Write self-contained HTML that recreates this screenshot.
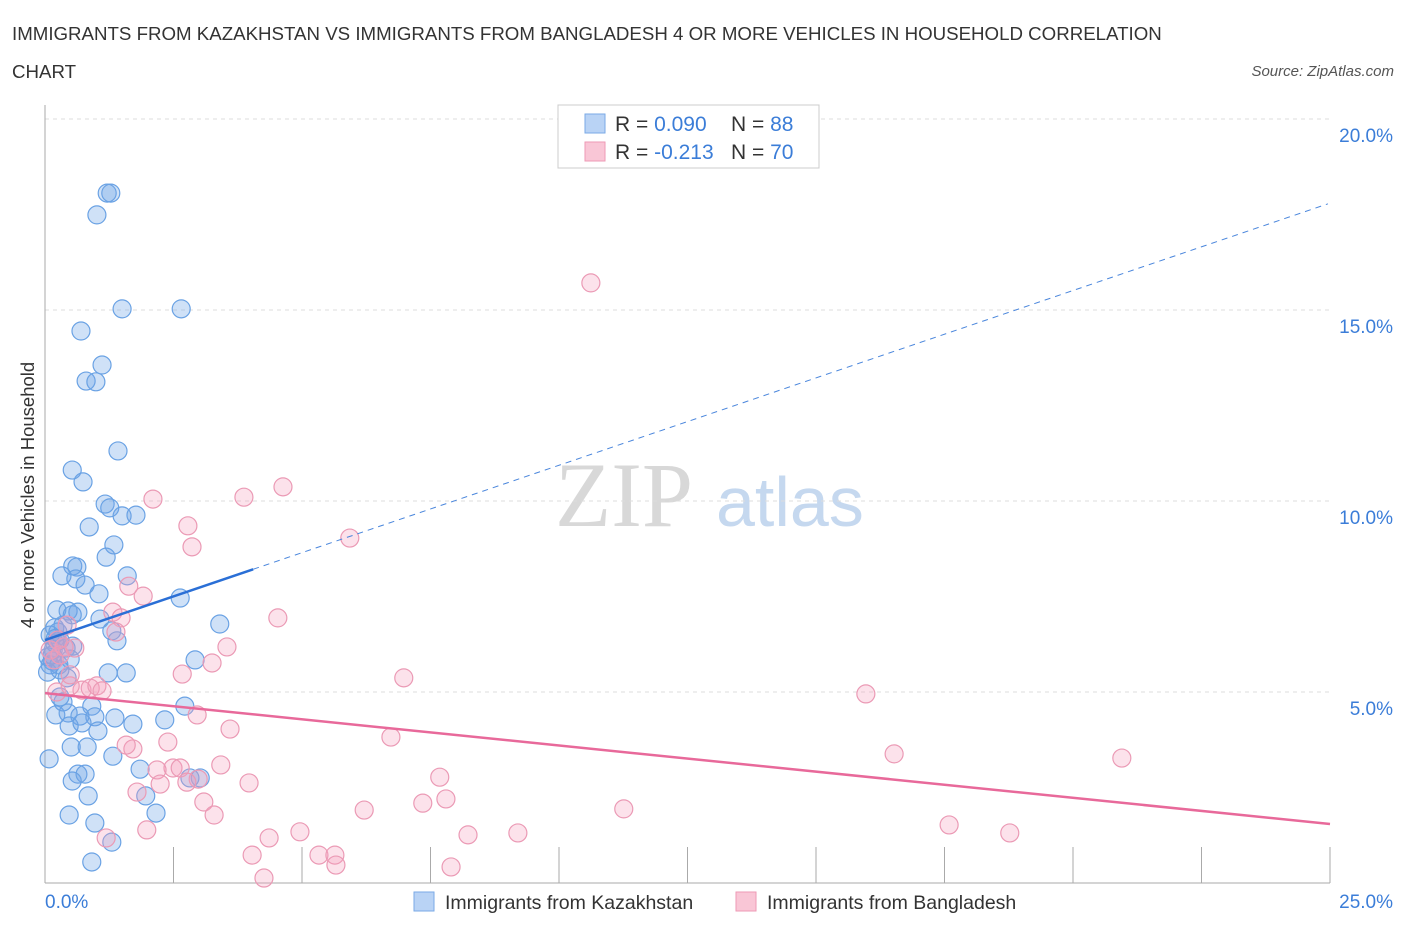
<!DOCTYPE html>
<html><head><meta charset="utf-8"><style>
body{margin:0;background:#fff;font-family:"Liberation Sans",sans-serif;}
</style></head><body>
<svg width="1406" height="930" xmlns="http://www.w3.org/2000/svg" id="chart">
<text x="12" y="40" font-size="18.7" fill="#333">IMMIGRANTS FROM KAZAKHSTAN VS IMMIGRANTS FROM BANGLADESH 4 OR MORE VEHICLES IN HOUSEHOLD CORRELATION</text>
<text x="12" y="78" font-size="18.7" fill="#333">CHART</text>
<text x="1394" y="76" font-size="15" fill="#555" font-style="italic" text-anchor="end">Source: ZipAtlas.com</text>
<text transform="translate(34,495) rotate(-90)" font-size="18.5" fill="#333" text-anchor="middle">4 or more Vehicles in Household</text>
<text x="555" y="526" font-size="92" fill="#d8d8d8" font-family="Liberation Serif,serif">ZIP</text>
<text x="716" y="526" font-size="70" fill="#c5d8ef">atlas</text>
<g id="grid"></g><g id="axes"></g><g id="pts"></g><g id="lines"></g>
<g>
<rect x="558" y="105" width="261" height="63" fill="#fff" stroke="#ccc"/>
<rect x="585" y="114" width="20" height="19" fill="#b9d3f5" stroke="#7aa9e6"/>
<rect x="585" y="142" width="20" height="19" fill="#f9c6d6" stroke="#ee9ab5"/>
<text x="615" y="131" font-size="21" fill="#333">R = <tspan fill="#3b7dd8">0.090</tspan><tspan x="731">N = </tspan><tspan fill="#3b7dd8">88</tspan></text>
<text x="615" y="159" font-size="21" fill="#333">R = <tspan fill="#3b7dd8">-0.213</tspan><tspan x="731">N = </tspan><tspan fill="#3b7dd8">70</tspan></text>
</g>
<g>
<rect x="414" y="892" width="20" height="19" fill="#b9d3f5" stroke="#7aa9e6"/>
<text x="445" y="909" font-size="19.5" fill="#333">Immigrants from Kazakhstan</text>
<rect x="736" y="892" width="20" height="19" fill="#f9c6d6" stroke="#ee9ab5"/>
<text x="767" y="909" font-size="19.5" fill="#333">Immigrants from Bangladesh</text>
</g>
</svg>
<script>
const yTicks=[5,10,15,20];
const yTickLabels=["5.0%","10.0%","15.0%","20.0%"];
const xTickLabels=["0.0%","25.0%"];
const blueX=[1.21,1.28,1.01,1.50,2.65,0.70,1.11,0.80,0.99,1.42,0.53,0.74,1.17,1.26,1.50,1.77,0.86,1.34,1.19,0.54,0.62,0.33,0.60,0.78,1.60,1.05,2.63,0.23,0.45,0.64,0.53,1.07,3.40,1.30,0.19,0.10,0.29,1.40,0.54,0.16,0.06,0.14,0.27,1.23,1.58,2.92,0.43,0.29,0.35,0.91,2.72,0.21,0.45,0.68,0.97,1.36,1.71,0.47,0.72,1.03,0.51,0.82,1.32,0.08,1.85,0.64,0.78,0.53,0.84,1.96,2.16,0.47,0.97,1.30,0.91,0.10,0.14,0.19,0.25,0.35,0.41,0.49,0.29,3.02,2.82,2.33,0.05,0.20];
const blueY=[18.06,18.06,17.49,15.03,15.03,14.45,13.56,13.14,13.12,11.31,10.81,10.50,9.92,9.82,9.61,9.63,9.32,8.85,8.53,8.30,8.27,8.04,7.96,7.80,8.04,7.57,7.46,7.15,7.12,7.09,7.02,6.91,6.78,6.60,6.68,6.49,6.36,6.34,6.20,6.10,5.92,5.81,5.71,5.50,5.50,5.84,5.37,4.87,4.74,4.63,4.63,4.40,4.45,4.37,4.35,4.32,4.16,4.11,4.19,3.98,3.56,3.56,3.32,3.25,2.98,2.85,2.85,2.67,2.28,2.28,1.83,1.78,1.57,1.07,0.55,5.71,5.97,6.28,6.57,6.75,6.15,5.86,5.58,2.75,2.75,4.27,5.52,6.40];
const pinkX=[10.62,4.63,3.87,2.10,5.93,2.78,2.86,1.63,1.91,4.53,1.32,1.48,1.38,3.54,0.58,0.37,3.25,2.67,6.98,15.97,0.23,0.72,0.88,1.01,1.11,0.49,0.49,2.96,3.60,1.71,2.39,1.58,6.73,16.52,20.95,3.42,2.49,2.63,2.18,7.68,2.98,2.76,3.97,2.24,1.79,7.80,7.35,3.09,6.21,11.26,3.29,1.98,4.96,8.23,9.20,17.59,18.77,4.36,1.19,4.03,5.33,5.64,5.66,7.90,4.26,0.29,0.18,0.25,0.43,0.10];
const pinkY=[15.71,10.37,10.10,10.05,9.03,9.35,8.80,7.77,7.51,6.94,7.09,6.94,6.57,6.18,6.15,6.18,5.76,5.47,5.37,4.95,5.00,5.05,5.10,5.16,5.03,5.16,5.45,4.40,4.03,3.51,3.69,3.61,3.82,3.38,3.27,3.09,3.01,3.01,2.96,2.77,2.72,2.64,2.62,2.59,2.38,2.20,2.09,2.12,1.91,1.94,1.78,1.39,1.34,1.26,1.31,1.52,1.31,1.18,1.18,0.73,0.73,0.73,0.47,0.42,0.13,5.97,5.84,6.36,6.75,6.10];
const blueTrend=[6.36,0.4575]; // intercept, slope
const pinkTrend=[4.97,-0.137];
const blueSolidEnd=4.05, trendEnd=24.96;
const NS="http://www.w3.org/2000/svg";
const X=v=>45+v*1285/25, Y=v=>883-v*191/5;
function mk(tag,attrs,parent){const e=document.createElementNS(NS,tag);for(const k in attrs)e.setAttribute(k,attrs[k]);document.getElementById(parent).appendChild(e);return e;}
yTicks.forEach((t,i)=>{
  const l=mk('line',{x1:45,x2:1330,y1:Y(t),y2:Y(t),stroke:'#ddd','stroke-dasharray':'4,4'},'grid');
  
  
  const tx=mk('text',{x:1393,y:Y(t)+23,'font-size':19,fill:'#3b7dd8','text-anchor':'end'},'grid');
  tx.textContent=yTickLabels[i];
  
  
});
mk('line',{x1:45,x2:45,y1:105,y2:883,stroke:'#aaa'},'axes');
mk('line',{x1:45,x2:1330,y1:883,y2:883,stroke:'#aaa'},'axes');
for(let i=1;i<=10;i++){const x=X(i*2.5);const t=mk('line',{x1:x,x2:x,y1:847,y2:883,stroke:'#aaa'},'axes');}
const xl0=mk('text',{x:45,y:908,'font-size':19,fill:'#3b7dd8'},'axes');xl0.textContent=xTickLabels[0];


const xl1=mk('text',{x:1393,y:908,'font-size':19,fill:'#3b7dd8','text-anchor':'end'},'axes');xl1.textContent=xTickLabels[1];


blueX.forEach((v,i)=>{const c=mk('circle',{cx:X(v),cy:Y(blueY[i]),r:9,fill:'rgba(110,165,230,0.33)',stroke:'#6aa2e4','stroke-width':1.2},'pts');

});
pinkX.forEach((v,i)=>{const c=mk('circle',{cx:X(v),cy:Y(pinkY[i]),r:9,fill:'rgba(245,160,190,0.3)',stroke:'#eb9ab5','stroke-width':1.2},'pts');

});
const bl=x=>blueTrend[0]+blueTrend[1]*x, pl=x=>pinkTrend[0]+pinkTrend[1]*x;
const l1=mk('line',{x1:X(0),y1:Y(bl(0)),x2:X(blueSolidEnd),y2:Y(bl(blueSolidEnd)),stroke:'#2a6fd6','stroke-width':2.5},'lines');


const l2=mk('line',{x1:X(blueSolidEnd),y1:Y(bl(blueSolidEnd)),x2:X(trendEnd),y2:Y(bl(trendEnd)),stroke:'#4a86dc','stroke-width':1,'stroke-dasharray':'6,5'},'lines');


const l3=mk('line',{x1:X(0),y1:Y(pl(0)),x2:X(25),y2:Y(pl(25)),stroke:'#e8699a','stroke-width':2.5},'lines');


</script>
</body></html>
